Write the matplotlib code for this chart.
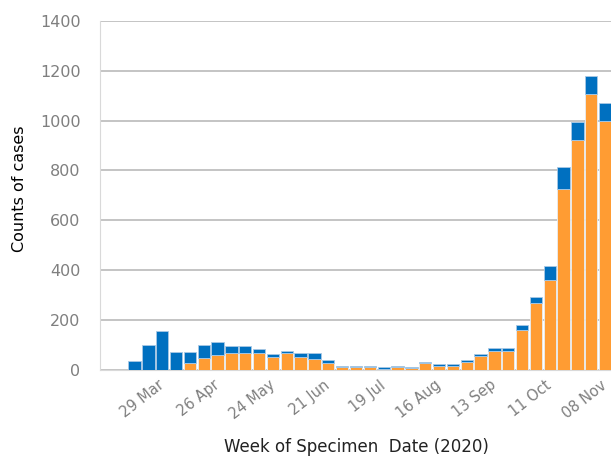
import matplotlib
matplotlib.use('Agg')
import matplotlib.pyplot as plt
import numpy as np
import pandas as pd

# weekly counts, weeks starting 01 Mar 2020 (first two weeks empty)
weeks = pd.date_range('2020-03-01', periods=37, freq='7D')
totals = [0, 0, 34, 99, 156, 71, 71, 99, 111, 95, 95, 82, 62, 75, 67, 67, 37,
          16, 16, 16, 10, 16, 12, 30, 21, 21, 37, 63, 86, 86, 180, 292, 416,
          812, 994, 1178, 1071]
orange_vals = [0, 0, 0, 0, 0, 0, 26, 45, 58, 66, 66, 66, 52, 66, 49, 44, 27,
               11, 11, 11, 4, 11, 7, 25, 15, 15, 32, 56, 73, 73, 158, 268, 360,
               727, 922, 1107, 999]
blue_vals = [t - o for t, o in zip(totals, orange_vals)]
tick_idx = list(range(4, 37, 4))
tick_labels = [weeks[i].strftime('%d %b') for i in tick_idx]

ORANGE = '#ff9c33'
BLUE = '#0070c0'

fig = plt.figure(figsize=(6.11, 4.57), dpi=100)
ax = fig.add_axes([100 / 611, 87.5 / 457, 512 / 611, 348.5 / 457])

x = np.arange(len(weeks)) - 2
ax.bar(x, orange_vals, width=0.89, color=ORANGE, edgecolor='#e6edf4', linewidth=0.6, zorder=3)
ax.bar(x, blue_vals, bottom=orange_vals, width=0.89, color=BLUE, edgecolor='#a9c8e4', linewidth=0.6, zorder=3)

ax.set_xlim(-2.5, 34.5)
ax.set_ylim(0, 1400)
ax.set_yticks(range(0, 1401, 200))
ax.yaxis.grid(True, color='#bfbfbf', linewidth=1.3, zorder=0)
ax.set_axisbelow(True)

ax.set_xticks([i - 2 for i in tick_idx])
ax.set_xticklabels(tick_labels, rotation=38, ha='right', va='center', rotation_mode='anchor')
ax.tick_params(axis='x', length=0, pad=10, labelsize=10.5, labelcolor='#7f7f7f')
ax.tick_params(axis='y', length=0, pad=14, labelsize=11.5, labelcolor='#7f7f7f')

for side in ['top', 'right']:
    ax.spines[side].set_visible(False)
for side in ['left', 'bottom']:
    ax.spines[side].set_color('#d9d9d9')
    ax.spines[side].set_linewidth(0.8)

fig.text(20 / 611, 1 - 189 / 457, 'Counts of cases', rotation=90, ha='center', va='center', fontsize=11.5)
fig.text(356 / 611, 1 - 447 / 457, 'Week of Specimen  Date (2020)', ha='center', va='center', fontsize=12, color='#222222')

fig.savefig('out.png', dpi=100)
